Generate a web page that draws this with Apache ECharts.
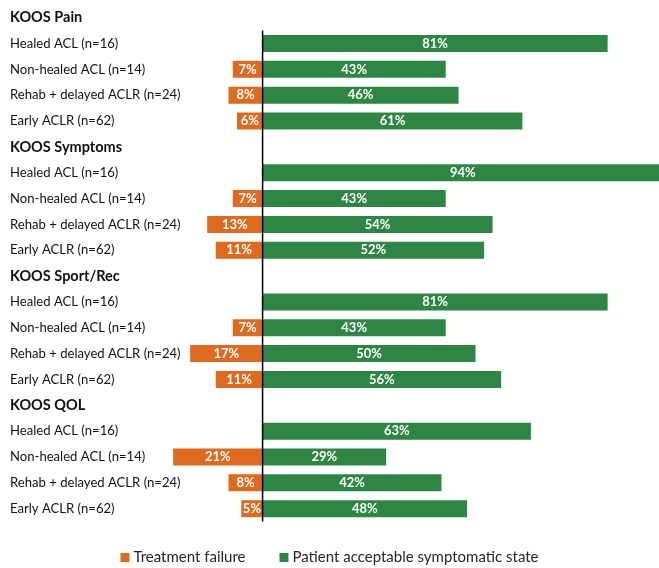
<!DOCTYPE html>
<html><head><meta charset="utf-8">
<script src="https://cdn.jsdelivr.net/npm/echarts@6/dist/echarts.min.js"></script>
<style>html,body{margin:0;padding:0;background:#fff}#c{width:659px;height:568px}</style>
</head><body><div id="c"></div>
<script>
var groups = ['KOOS Pain', 'KOOS Symptoms', 'KOOS Sport/Rec', 'KOOS QOL'];
var cohorts = ['Healed ACL (n=16)', 'Non-healed ACL (n=14)', 'Rehab + delayed ACLR (n=24)', 'Early ACLR (n=62)'];
// Treatment failure (%) per group, cohort order as above (null = no bar)
var failPain = [null, 7, 8, 6];
var failSymptoms = [null, 7, 13, 11];
var failSport = [null, 7, 17, 11];
var failQOL = [null, 21, 8, 5];
// Patient acceptable symptomatic state (%)
var passPain = [81, 43, 46, 61];
var passSymptoms = [94, 43, 54, 52];
var passSport = [81, 43, 50, 56];
var passQOL = [63, 29, 42, 48];

var failAll = [failPain, failSymptoms, failSport, failQOL];
var passAll = [passPain, passSymptoms, passSport, passQOL];

var cats = [], labels = [], failData = [], passData = [];
groups.forEach(function (g, gi) {
  cats.push('h' + gi); labels.push({ text: g, header: true });
  failData.push(null); passData.push(null);
  cohorts.forEach(function (c, ci) {
    cats.push('r' + gi + '_' + ci); labels.push({ text: c, header: false });
    var f = failAll[gi][ci];
    failData.push(f == null ? null : -f);
    passData.push(passAll[gi][ci]);
  });
});

var chart = echarts.init(document.getElementById('c'));
var FONT = 'Lato';
chart.setOption({
  animation: false,
  textStyle: { fontFamily: FONT },
  grid: { left: 7, right: -4, top: 4.7, bottom: 46.4, containLabel: false, outerBoundsMode: 'none' },
  xAxis: { type: 'value', min: -60, max: 94, show: false },
  yAxis: {
    type: 'category', inverse: true, data: cats,
    axisLine: { show: false }, axisTick: { show: false }, splitLine: { show: false },
    axisLabel: {
      inside: true, margin: 3, interval: 0,
      formatter: function (v, i) {
        var l = labels[i];
        return l.header ? '{h|' + l.text + '}' : '{r|' + l.text + '}';
      },
      rich: {
        h: { fontFamily: FONT, fontWeight: 'bold', fontSize: 14.5, color: '#111' },
        r: { fontFamily: FONT, fontSize: 13.1, color: '#111' }
      }
    }
  },
  legend: {
    bottom: 3, padding: 0, left: 'center', icon: 'rect', itemWidth: 9, itemHeight: 9, itemGap: 34,
    textStyle: { fontFamily: FONT, fontSize: 15, color: '#262626', padding: [0, 0, 0, -1] },
    data: ['Treatment failure', 'Patient acceptable symptomatic state']
  },
  series: [
    {
      name: 'Treatment failure', type: 'bar', data: failData, barWidth: 17, barGap: '-100%',
      itemStyle: { color: '#DF6A1E' },
      label: {
        show: true, position: 'inside', color: '#fff', fontWeight: 'bold', fontSize: 13, fontFamily: FONT,
        formatter: function (p) { return Math.abs(p.value) + '%'; }
      }
    },
    {
      name: 'Patient acceptable symptomatic state', type: 'bar', data: passData, barWidth: 17, barGap: '-100%',
      itemStyle: { color: '#2E8644' },
      label: {
        show: true, position: 'inside', color: '#fff', fontWeight: 'bold', fontSize: 13, fontFamily: FONT,
        formatter: function (p) { return p.value + '%'; }
      }
    },
    {
      type: 'custom', z: 10, silent: true,
      encode: { x: 0, y: [1, 2] },
      data: [[0, 1, cats.length - 1]],
      renderItem: function (params, api) {
        var p1 = api.coord([0, api.value(1)]);
        var p2 = api.coord([0, api.value(2)]);
        var h = api.size([0, 1])[1];
        return {
          type: 'line',
          shape: { x1: p1[0], y1: p1[1] - h / 2, x2: p2[0], y2: p2[1] + h / 2 },
          style: { stroke: '#000', lineWidth: 1.5 }
        };
      }
    }
  ]
});
</script>
</body></html>
